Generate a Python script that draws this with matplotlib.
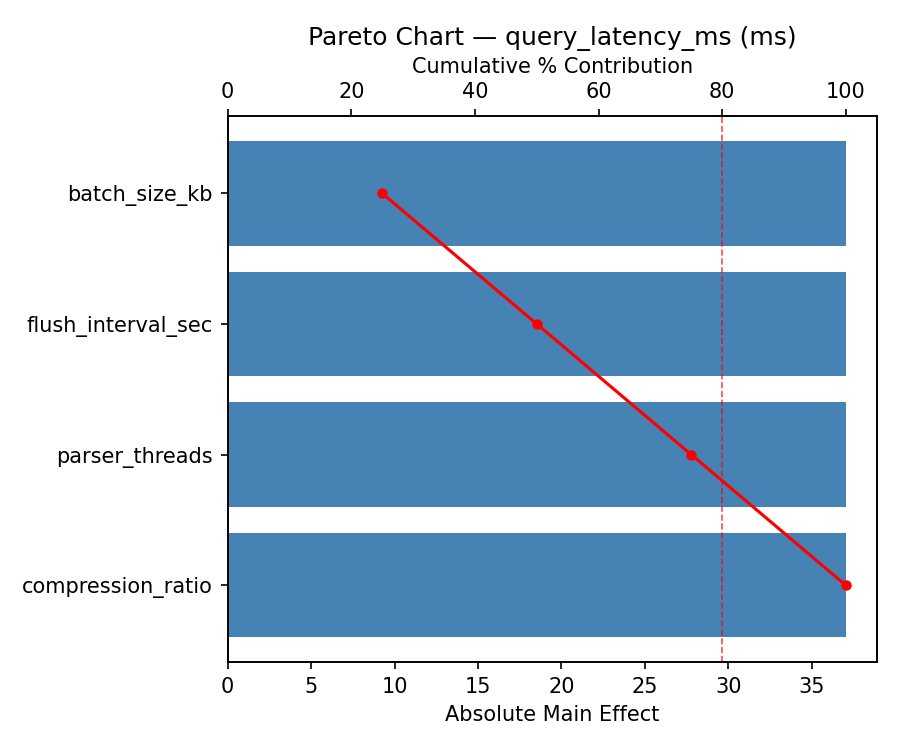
import numpy as np
import matplotlib
matplotlib.use("Agg")
import matplotlib.pyplot as plt

# factor effects (all equal here)
factors = ["batch_size_kb", "flush_interval_sec", "parser_threads", "compression_ratio"]
effects = [37.04, 37.04, 37.04, 37.04]
cum_pct = [25.0, 50.0, 75.0, 100.0]

fig, ax = plt.subplots(figsize=(6, 5), dpi=150)
y = np.arange(len(factors))
ax.barh(y, effects, color="steelblue")
ax.set_yticks(y)
ax.set_yticklabels(factors)
ax.invert_yaxis()
ax.set_xlabel("Absolute Main Effect")

ax2 = ax.twiny()
ax2.plot(cum_pct, y, color="red", marker="o", markersize=4)
ax2.axvline(80, color="red", linestyle="--", linewidth=0.8, alpha=0.7)
ax2.set_xlim(0, 105)
ax2.set_xlabel("Cumulative % Contribution")

ax.set_title("Pareto Chart \u2014 query_latency_ms (ms)", fontsize=12)
fig.subplots_adjust(left=0.253, right=0.974, top=0.845, bottom=0.117)
fig.savefig("out.png")
